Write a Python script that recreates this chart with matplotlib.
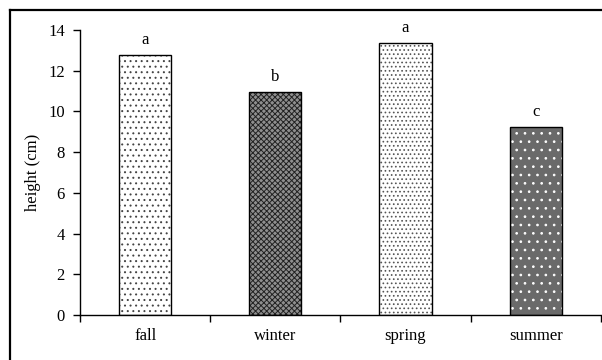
import matplotlib
matplotlib.use('Agg')
import matplotlib.pyplot as plt
from matplotlib.lines import Line2D

seasons = ['fall', 'winter', 'spring', 'summer']
heights = [12.75, 10.95, 13.35, 9.25]
letters = ['a', 'b', 'a', 'c']

# fill colour, hatch pattern, hatch colour for each bar
fills = ['white', '#8f8f8f', 'white', '#6a6a6a']
hatches = ['...', 'xxxxxx', '....', '..']
hatch_colors = ['#444444', '#222222', '#555555', 'white']

plt.rcParams['font.family'] = ['Liberation Serif', 'DejaVu Serif']
plt.rcParams['hatch.linewidth'] = 0.7

fig = plt.figure(figsize=(6.02, 3.6), dpi=100)
ax = fig.add_axes([0.133, 0.125, 0.865, 0.7917])

x = range(len(seasons))
for i in x:
    ax.bar(i, heights[i], width=0.4, color=fills[i], hatch=hatches[i],
           edgecolor=hatch_colors[i], linewidth=0)
    ax.bar(i, heights[i], width=0.4, fill=False, edgecolor='black', linewidth=1.0)
    ax.text(i, heights[i] + 0.35, letters[i], ha='center', va='bottom', fontsize=12)

ax.set_xlim(-0.5, 3.5)
ax.set_ylim(0, 14)
ax.set_yticks(range(0, 15, 2))
ax.set_xticks([-0.5, 0.5, 1.5, 2.5, 3.5])
ax.set_xticklabels([])
ax.set_xticks(list(x), minor=True)
ax.set_xticklabels(seasons, minor=True)
ax.tick_params(axis='x', which='minor', length=0, pad=9, labelsize=12)
ax.tick_params(axis='x', which='major', length=5, width=1, direction='out')
ax.tick_params(axis='y', length=5, width=1, direction='out', labelsize=12, pad=6)

for s in ['top', 'right']:
    ax.spines[s].set_visible(False)
ax.spines['left'].set_linewidth(1)
ax.spines['bottom'].set_linewidth(1)

ax.set_ylabel('height (cm)', fontsize=12, labelpad=5)

# outer frame (left and top edges are visible in the crop)
fig.add_artist(Line2D([0.016, 0.016], [0.0, 0.972], color='black', linewidth=1.6,
                      transform=fig.transFigure))
fig.add_artist(Line2D([0.016, 1.0], [0.972, 0.972], color='black', linewidth=1.6,
                      transform=fig.transFigure))

fig.savefig('out.png', dpi=100)
